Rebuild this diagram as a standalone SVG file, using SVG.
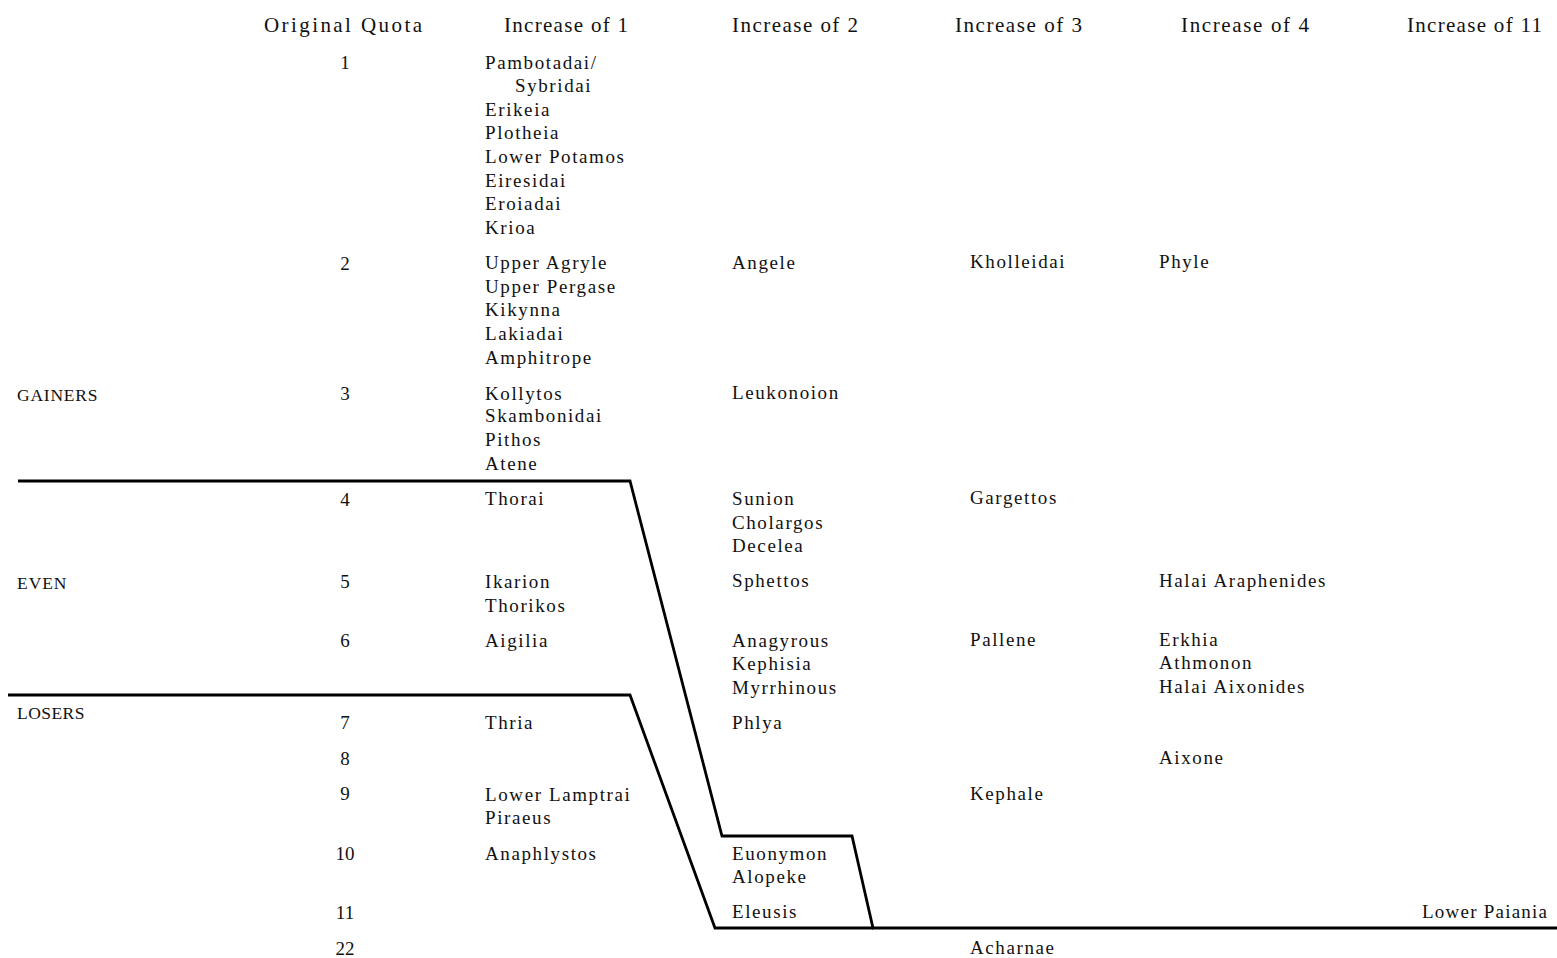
<svg xmlns="http://www.w3.org/2000/svg" width="1557" height="958" viewBox="0 0 1557 958">
<style>
text{font-family:"Liberation Serif","Times New Roman",serif;fill:#111}
.h{font-size:21px}
.b{font-size:19px;letter-spacing:1.6px}
.n{font-size:19px;text-anchor:middle}
.s{font-size:17.5px;letter-spacing:0.5px}
.ln{fill:none;stroke:#000;stroke-width:2.8;stroke-linejoin:miter}
</style>
<rect width="1557" height="958" fill="#fff"/>
<g id="headers">
<text class="h" x="264" y="32" textLength="158" lengthAdjust="spacing">Original Quota</text>
<text class="h" x="504" y="32" textLength="124" lengthAdjust="spacing">Increase of 1</text>
<text class="h" x="732" y="32" textLength="126" lengthAdjust="spacing">Increase of 2</text>
<text class="h" x="955" y="32" textLength="127" lengthAdjust="spacing">Increase of 3</text>
<text class="h" x="1181" y="32" textLength="128" lengthAdjust="spacing">Increase of 4</text>
<text class="h" x="1407" y="32" textLength="135" lengthAdjust="spacing">Increase of 11</text>
</g>
<g id="groups">
<text class="s" x="17" y="401" textLength="81" lengthAdjust="spacing">GAINERS</text>
<text class="s" x="17" y="589" textLength="50" lengthAdjust="spacing">EVEN</text>
<text class="s" x="17" y="719" textLength="68" lengthAdjust="spacing">LOSERS</text>
</g>
<g id="quota">
<text class="n" x="345" y="69">1</text>
<text class="n" x="345" y="270">2</text>
<text class="n" x="345" y="400">3</text>
<text class="n" x="345" y="506">4</text>
<text class="n" x="345" y="588">5</text>
<text class="n" x="345" y="647">6</text>
<text class="n" x="345" y="729">7</text>
<text class="n" x="345" y="765">8</text>
<text class="n" x="345" y="800">9</text>
<text class="n" x="345" y="860">10</text>
<text class="n" x="345" y="919">11</text>
<text class="n" x="345" y="955">22</text>
</g>
<g id="inc1">
<text class="b" x="485" y="69">Pambotadai/</text>
<text class="b" x="515" y="92">Sybridai</text>
<text class="b" x="485" y="116">Erikeia</text>
<text class="b" x="485" y="139">Plotheia</text>
<text class="b" x="485" y="163">Lower Potamos</text>
<text class="b" x="485" y="187">Eiresidai</text>
<text class="b" x="485" y="210">Eroiadai</text>
<text class="b" x="485" y="234">Krioa</text>
<text class="b" x="485" y="269">Upper Agryle</text>
<text class="b" x="485" y="293">Upper Pergase</text>
<text class="b" x="485" y="316">Kikynna</text>
<text class="b" x="485" y="340">Lakiadai</text>
<text class="b" x="485" y="364">Amphitrope</text>
<text class="b" x="485" y="400">Kollytos</text>
<text class="b" x="485" y="422">Skambonidai</text>
<text class="b" x="485" y="446">Pithos</text>
<text class="b" x="485" y="470">Atene</text>
<text class="b" x="485" y="505">Thorai</text>
<text class="b" x="485" y="588">Ikarion</text>
<text class="b" x="485" y="612">Thorikos</text>
<text class="b" x="485" y="647">Aigilia</text>
<text class="b" x="485" y="729">Thria</text>
<text class="b" x="485" y="801">Lower Lamptrai</text>
<text class="b" x="485" y="824">Piraeus</text>
<text class="b" x="485" y="860">Anaphlystos</text>
</g>
<g id="inc2">
<text class="b" x="732" y="269">Angele</text>
<text class="b" x="732" y="399">Leukonoion</text>
<text class="b" x="732" y="505">Sunion</text>
<text class="b" x="732" y="529">Cholargos</text>
<text class="b" x="732" y="552">Decelea</text>
<text class="b" x="732" y="587">Sphettos</text>
<text class="b" x="732" y="647">Anagyrous</text>
<text class="b" x="732" y="670">Kephisia</text>
<text class="b" x="732" y="694">Myrrhinous</text>
<text class="b" x="732" y="729">Phlya</text>
<text class="b" x="732" y="860">Euonymon</text>
<text class="b" x="732" y="883">Alopeke</text>
<text class="b" x="732" y="918">Eleusis</text>
</g>
<g id="inc3">
<text class="b" x="970" y="268">Kholleidai</text>
<text class="b" x="970" y="504">Gargettos</text>
<text class="b" x="970" y="646">Pallene</text>
<text class="b" x="970" y="800">Kephale</text>
<text class="b" x="970" y="954">Acharnae</text>
</g>
<g id="inc4">
<text class="b" x="1159" y="268">Phyle</text>
<text class="b" x="1159" y="587">Halai Araphenides</text>
<text class="b" x="1159" y="646">Erkhia</text>
<text class="b" x="1159" y="669">Athmonon</text>
<text class="b" x="1159" y="693">Halai Aixonides</text>
<text class="b" x="1159" y="764">Aixone</text>
</g>
<g id="inc11">
<text class="h" style="font-size:19px" x="1422" y="918" textLength="125" lengthAdjust="spacing">Lower Paiania</text>
</g>
<g id="connectors">
<path class="ln" d="M18 481 H630 L722 836 H852 L873 928 H1557"/>
<path class="ln" d="M8 695 H630 L715 928 H873"/>
</g>
</svg>
